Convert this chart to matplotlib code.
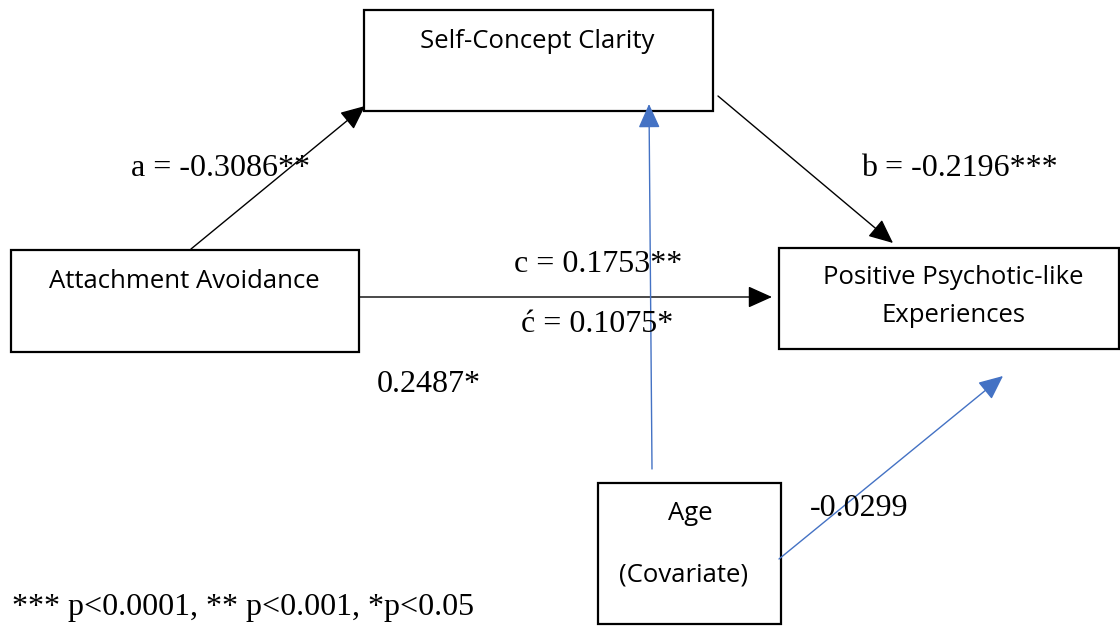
import matplotlib.pyplot as plt
from matplotlib.patches import Rectangle, FancyArrowPatch

# node boxes (left, top, right, bottom) in pixel coords
box_extents = [(364, 10, 713, 111), (11, 250, 359, 352),
               (779, 248, 1119, 349), (598, 483, 781, 624)]

# box text lines and their centres
box_lines = ["Self-Concept Clarity", "Attachment Avoidance",
             "Positive Psychotic-like", "Experiences", "Age", "(Covariate)"]
box_line_pos = [(537, 42), (184, 282), (953, 278), (953, 316), (690, 513), (684, 575)]

# path coefficients
coef_labels = ["a = -0.3086**", "b = -0.2196***", "c = 0.1753**",
               "ć = 0.1075*", "0.2487*", "-0.0299"]
coef_pos = [(131, 168), (861, 168), (514, 265), (521, 325), (377, 385), (810, 508)]
note = "*** p<0.0001, ** p<0.001, *p<0.05"

# arrows: start, end, colour
arrow_start = [(191, 249), (718, 96), (359, 297), (652, 469), (779, 559)]
arrow_end = [(365, 106), (893, 243), (772, 297), (649, 104), (1003, 376)]
arrow_color = ["black", "black", "black", "#4472C4", "#4472C4"]

fig = plt.figure(figsize=(11.2, 6.28), dpi=100)
ax = fig.add_axes([0, 0, 1, 1])
ax.set_xlim(0, 1120)
ax.set_ylim(628, 0)
ax.axis("off")

for (l, t, r, b) in box_extents:
    ax.add_patch(Rectangle((l, t), r - l, b - t, fill=False, ec="black", lw=1.6))

for lab, (x, y) in zip(box_lines, box_line_pos):
    ax.text(x, y, lab, ha="center", va="center", fontsize=18.5, family="Open Sans")

for s, e, c in zip(arrow_start, arrow_end, arrow_color):
    ax.add_patch(FancyArrowPatch(s, e, arrowstyle="-|>,head_length=1.0,head_width=0.45",
                                 mutation_scale=15, color=c, lw=1.0,
                                 shrinkA=0, shrinkB=0))

for lab, (x, y) in zip(coef_labels, coef_pos):
    ax.text(x, y, lab, ha="left", va="center", fontsize=23, family="Liberation Serif")

ax.text(12, 608, note, ha="left", va="center", fontsize=23, family="Liberation Serif")

fig.savefig("out.png", dpi=100)
